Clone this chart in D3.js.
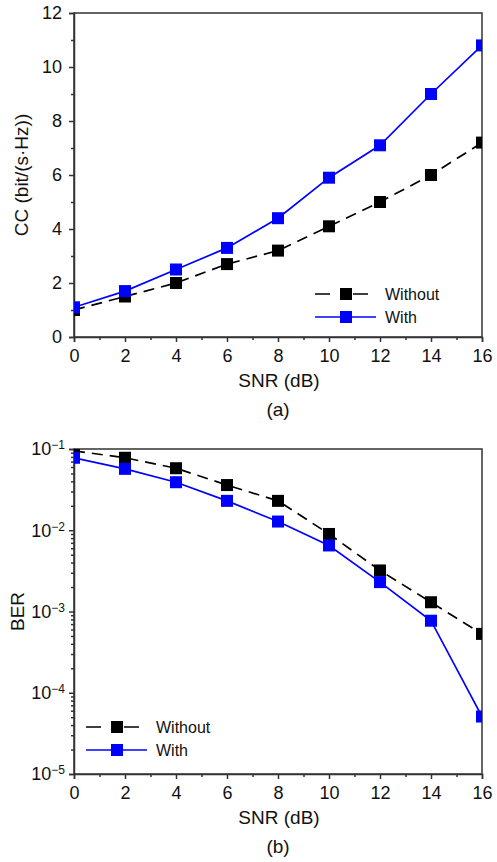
<!DOCTYPE html>
<html>

<head>
  <script src="https://d3js.org/d3.v7.min.js"></script>
  <style>
    body {
      margin: 0;
      background: #fff;
    }

    text {
      font-family: "Liberation Sans", Arial, sans-serif;
      fill: #111;
    }

    .axis path,
    .axis line {
      stroke: #333;
      stroke-width: 1.5;
    }
  </style>
</head>

<body>
  <script>
    const width = 497;
    const height = 862;

    // data
    const snr = [0, 2, 4, 6, 8, 10, 12, 14, 16];
    const ccWithout = [1.0, 1.5, 2.0, 2.7, 3.2, 4.1, 5.0, 6.0, 7.2];
    const ccWith = [1.1, 1.7, 2.5, 3.3, 4.4, 5.9, 7.1, 9.0, 10.8];
    const berWithout = [0.095, 0.078, 0.058, 0.036, 0.023, 0.009, 0.0032, 0.0013, 0.00053];
    const berWith = [0.078, 0.057, 0.039, 0.023, 0.0128, 0.0065, 0.0023, 0.00077, 0.000051];

    const xTicks = [0, 2, 4, 6, 8, 10, 12, 14, 16];
    const ccTicks = [0, 2, 4, 6, 8, 10, 12];
    const berTicks = [1e-5, 1e-4, 1e-3, 1e-2, 1e-1];
    const berExp = ["−5", "−4", "−3", "−2", "−1"];
    const seriesNames = ["Without", "With"];

    const svg = d3.select("body")
      .append("svg")
      .attr("width", width)
      .attr("height", height);

    const left = 74, right = 482;

    function panel(opts) {
      const g = svg.append("g");
      const x = d3.scaleLinear().domain([0, 16]).range([left, right]);
      const y = opts.y;

      const clipId = "clip-" + opts.id;
      svg.append("clipPath").attr("id", clipId)
        .append("rect")
        .attr("x", left).attr("y", opts.top)
        .attr("width", right - left).attr("height", opts.bottom - opts.top);

      // frame
      g.append("rect")
        .attr("x", left).attr("y", opts.top)
        .attr("width", right - left).attr("height", opts.bottom - opts.top)
        .attr("fill", "none").attr("stroke", "#333").attr("stroke-width", 1.5);

      // x axis
      const xa = g.append("g").attr("class", "axis")
        .attr("transform", `translate(0,${opts.bottom})`)
        .call(d3.axisBottom(x).tickValues(xTicks).tickSize(5).tickPadding(7).tickFormat(d3.format("d")));
      xa.selectAll("text").attr("font-size", 18);
      g.append("g").attr("class", "axis")
        .attr("transform", `translate(0,${opts.bottom})`)
        .call(d3.axisBottom(x).tickValues(d3.range(1, 16, 2)).tickSize(3).tickFormat(""))
        .select(".domain").remove();

      // y axis
      const ya = g.append("g").attr("class", "axis")
        .attr("transform", `translate(${left},0)`)
        .call(d3.axisLeft(y).tickValues(opts.yTicks).tickSize(5).tickPadding(opts.yPad).tickFormat(opts.yFormat || d3.format("d")));
      ya.selectAll("text").attr("font-size", 18);
      if (opts.yLabelFn) ya.selectAll("text").each(opts.yLabelFn);
      g.append("g").attr("class", "axis")
        .attr("transform", `translate(${left},0)`)
        .call(d3.axisLeft(y).tickValues(opts.yMinor).tickSize(3).tickFormat(""))
        .select(".domain").remove();

      // titles
      g.append("text")
        .attr("x", (left + right) / 2 + 1).attr("y", opts.bottom + 50)
        .attr("text-anchor", "middle").attr("font-size", 19)
        .text("SNR (dB)");
      g.append("text")
        .attr("x", (left + right) / 2).attr("y", opts.bottom + 79)
        .attr("text-anchor", "middle").attr("font-size", 19)
        .text(opts.tag);
      g.append("text")
        .attr("transform", `translate(${opts.yTitleX},${(opts.top + opts.bottom) / 2}) rotate(-90)`)
        .attr("text-anchor", "middle").attr("font-size", 19)
        .text(opts.yTitle);

      // series
      const series = [
        { vals: opts.without, color: "#000", dash: "11,7" },
        { vals: opts.with, color: "#0000ff", dash: null }
      ];
      const plot = g.append("g").attr("clip-path", `url(#${clipId})`);
      const line = d3.line().x((d, i) => x(snr[i])).y(d => y(d));
      series.forEach(s => {
        plot.append("path")
          .attr("d", line(s.vals))
          .attr("fill", "none")
          .attr("stroke", s.color)
          .attr("stroke-width", 1.7)
          .attr("stroke-dasharray", s.dash);
        plot.selectAll(null)
          .data(s.vals)
          .enter()
          .append("rect")
          .attr("x", (d, i) => x(snr[i]) - 6)
          .attr("y", d => y(d) - 6)
          .attr("width", 12).attr("height", 12)
          .attr("fill", s.color);
      });

      // legend
      const lg = g.append("g").attr("transform", `translate(${opts.legX},${opts.legY})`);
      series.forEach((s, i) => {
        const row = lg.append("g").attr("transform", `translate(0,${i * 23})`);
        row.append("line")
          .attr("x1", 0).attr("x2", s.dash ? 53 : 61)
          .attr("stroke", s.color).attr("stroke-width", 1.7)
          .attr("stroke-dasharray", s.dash ? "15,23,15" : null);
        row.append("rect")
          .attr("x", 31 - 6).attr("y", -6).attr("width", 12).attr("height", 12)
          .attr("fill", s.color);
        row.append("text")
          .attr("x", 70).attr("y", 0).attr("dy", "0.36em")
          .attr("font-size", 16)
          .text(seriesNames[i]);
      });
    }

    // (a) channel capacity
    const yCC = d3.scaleLinear().domain([0, 12]).range([337, 13]);
    panel({
      id: "a", top: 13, bottom: 337, y: yCC,
      yTicks: ccTicks, yMinor: d3.range(1, 12, 2), yPad: 7,
      yTitle: "CC (bit/(s·Hz))", yTitleX: 28, tag: "(a)",
      without: ccWithout, with: ccWith,
      legX: 315, legY: 294
    });

    // (b) bit error rate
    const yBER = d3.scaleLog().domain([1e-5, 1e-1]).range([774, 449]);
    const berMinor = [];
    for (let e = -5; e < -1; e++) for (let m = 2; m <= 9; m++) berMinor.push(m * Math.pow(10, e));
    panel({
      id: "b", top: 449, bottom: 774, y: yBER,
      yTicks: berTicks, yMinor: berMinor, yPad: 4,
      yFormat: () => "",
      yLabelFn: function (d, i) {
        const t = d3.select(this);
        t.append("tspan").text("10");
        t.append("tspan").attr("dy", "-0.5em").attr("font-size", 12).text(berExp[i]);
      },
      yTitle: "BER", yTitleX: 24, tag: "(b)",
      without: berWithout, with: berWith,
      legX: 86, legY: 727
    });
  </script>
</body>

</html>
